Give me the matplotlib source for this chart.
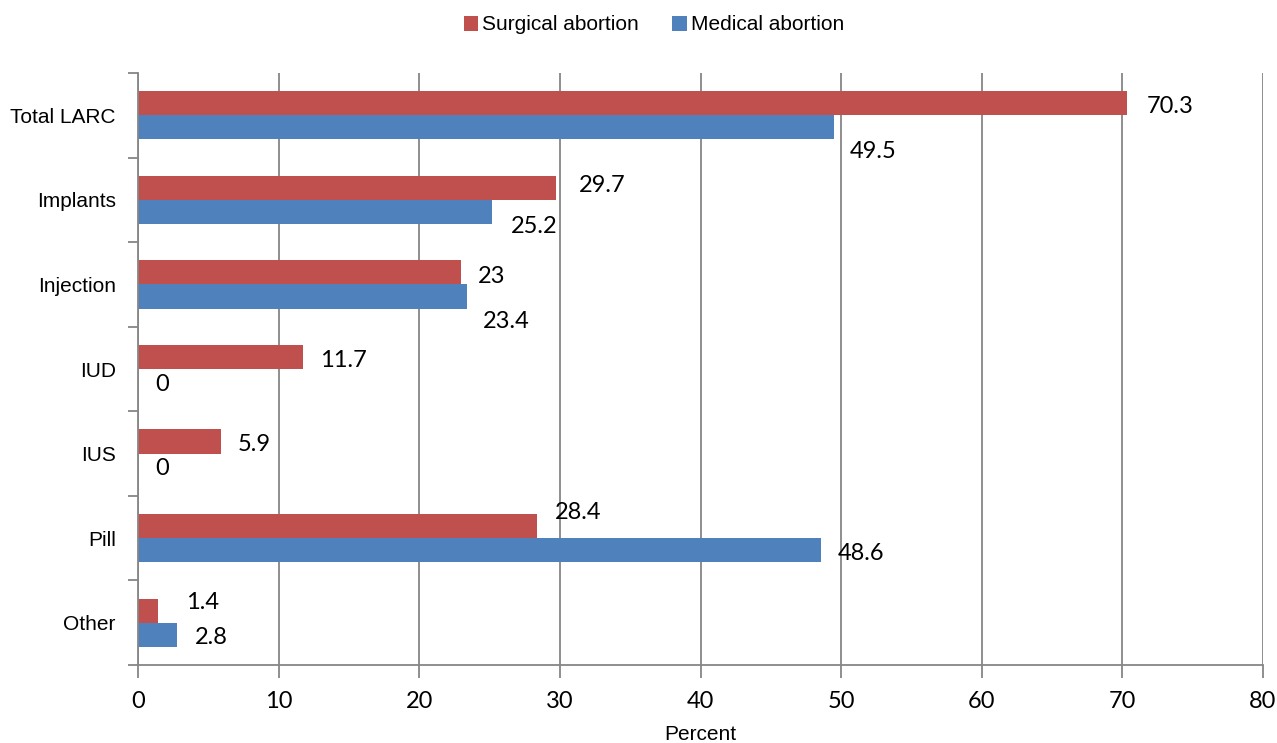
import numpy as np
import matplotlib
matplotlib.use('Agg')
import matplotlib.pyplot as plt

categories = ['Total LARC', 'Implants', 'Injection', 'IUD', 'IUS', 'Pill', 'Other']
surgical = [70.3, 29.7, 23, 11.7, 5.9, 28.4, 1.4]
medical = [49.5, 25.2, 23.4, 0, 0, 48.6, 2.8]
surgical_labels = ['70.3', '29.7', '23', '11.7', '5.9', '28.4', '1.4']
medical_labels = ['49.5', '25.2', '23.4', '0', '0', '48.6', '2.8']
x_ticks = [0, 10, 20, 30, 40, 50, 60, 70, 80]

# label nudges in pixels (dx, dy), as placed by hand in the original
surgical_nudge = [(20, -3), (23, 2), (16, -4), (17, -4), (17, -3), (17, 14), (28, 8)]
medical_nudge = [(16, -24), (18, -15), (16, -25), (17, -3), (17, -3), (16, -3), (17, -3)]

red = '#C0504D'
blue = '#4F81BD'
grid_col = '#868686'
arial = 'Liberation Sans'
num_font = 'Lato'

fig = plt.figure(figsize=(12.77, 7.43), dpi=100)
ax = fig.add_axes([138 / 1277, 78 / 743, 1125 / 1277, 592 / 743])

y = np.arange(len(categories))
h = 0.285
ax.barh(y - h / 2, surgical, height=h, color=red, label='Surgical abortion')
ax.barh(y + h / 2, medical, height=h, color=blue, label='Medical abortion')

for i in range(len(categories)):
    ax.annotate(surgical_labels[i], (surgical[i], y[i] - h / 2), xytext=surgical_nudge[i],
                textcoords='offset pixels', ha='left', va='center',
                fontsize=17, family=num_font, color='black')
    ax.annotate(medical_labels[i], (medical[i], y[i] + h / 2), xytext=medical_nudge[i],
                textcoords='offset pixels', ha='left', va='center',
                fontsize=17, family=num_font, color='black')

ax.set_xlim(0, 80)
ax.set_ylim(len(categories) - 0.5, -0.5)
ax.set_xticks(x_ticks)
ax.set_xticklabels([str(t) for t in x_ticks], fontsize=17, family=num_font)
ax.set_yticks(y)
ax.set_yticklabels(categories, fontsize=15, family=arial)
ax.set_yticks(np.arange(len(categories) + 1) - 0.5, minor=True)
ax.tick_params(axis='y', which='major', length=0, pad=16)
ax.tick_params(axis='y', which='minor', length=7, width=1.3, color=grid_col, direction='out')
ax.tick_params(axis='x', length=9, width=1.3, color=grid_col, direction='out', pad=10)

ax.xaxis.grid(True, color=grid_col, linewidth=1.3)
ax.set_axisbelow(True)
for s in ['top', 'right']:
    ax.spines[s].set_visible(False)
for s in ['left', 'bottom']:
    ax.spines[s].set_color(grid_col)
    ax.spines[s].set_linewidth(1.3)

ax.set_xlabel('Percent', fontsize=15, family=arial, labelpad=9)

fig.legend(loc='center', bbox_to_anchor=(654 / 1277, 1 - 25 / 743), ncol=2,
           frameon=False, prop={'family': arial, 'size': 15},
           handlelength=0.7, handleheight=0.7, handletextpad=0.2, columnspacing=1.6)

fig.savefig('out.png', dpi=100)
